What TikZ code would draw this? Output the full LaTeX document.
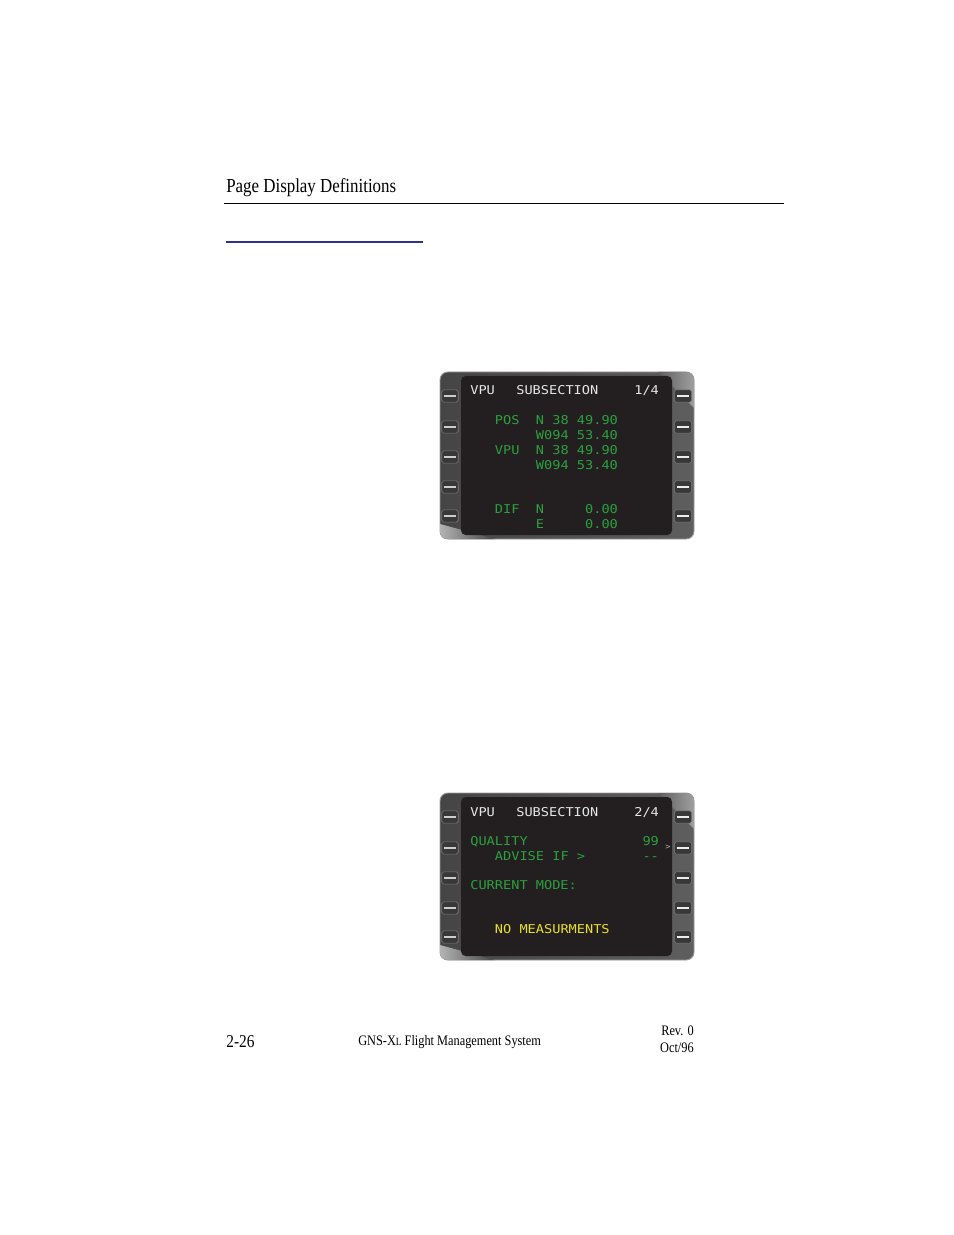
\documentclass[tikz,border=0pt]{standalone}
\usepackage{fontspec}
\setmainfont[FakeStretch=0.85]{Liberation Serif}
\newfontfamily\fmsfont[FakeStretch=1.12]{DejaVu Sans Mono}
\usetikzlibrary{positioning}
\definecolor{linkblue}{HTML}{30308F}
\definecolor{bezeldark}{HTML}{454545}
\definecolor{bezellight}{HTML}{5E5E5E}
\definecolor{bezeledge}{HTML}{9A9A9A}
\definecolor{screenblack}{HTML}{231F20}
\definecolor{keyfill}{HTML}{383838}
\definecolor{keyedge}{HTML}{7A7A7A}
\definecolor{fmswhite}{HTML}{E6E6E6}
\definecolor{fmsgreen}{HTML}{2BA03F}
\definecolor{fmsyellow}{HTML}{E8E02A}
\tikzstyle{bezel}=[draw=bezeledge, line width=0.6pt, rounded corners=5pt, left color=bezeldark, right color=bezellight]
\tikzstyle{screen}=[fill=screenblack, rounded corners=3pt]
\tikzstyle{key}=[draw=keyedge, fill=keyfill, rounded corners=1.2pt, minimum width=10.6pt, minimum height=7.9pt, inner sep=0pt]
\tikzstyle{keyline}=[draw=gray!40, line width=0.8pt]
\tikzstyle{crt}=[anchor=base west, inner sep=0pt, font=\fmsfont\fontsize{7.8}{9}\selectfont]
\tikzstyle{wht}=[crt, text=fmswhite]
\tikzstyle{grn}=[crt, text=fmsgreen]
\tikzstyle{ylw}=[crt, text=fmsyellow]
\tikzstyle{foot}=[inner sep=0pt, font=\fontsize{9.3}{11}\selectfont]
\newcommand\fmscol[1]{470+8.2*#1}
\begin{document}
\begin{tikzpicture}[x=0.64151pt, y=-0.64151pt]
\useasboundingbox (0,0) rectangle (954,1235);

% page header
\node[anchor=base west, inner sep=0pt, font=\fontsize{12.75}{15}\selectfont] (head) at (226,193) {Page Display Definitions};
\coordinate (ruleL) at (224,203);
\coordinate (ruleR) at (784,203);
\draw[line width=0.6pt] (ruleL) -- (ruleR);
\coordinate (linkL) at (226,242);
\coordinate (linkR) at (423,242);
\draw[linkblue, line width=0.7pt] (linkL) -- (linkR);

% both display units
\foreach \s in {0,421}{
  \begin{scope}[shift={(0,\s)}]
    \draw[bezel] (440,372) rectangle (694,539);
    \begin{scope}
      \clip[rounded corners=5pt] (440,372) rectangle (694,539);
      \path[left color=bezellight, right color=gray!75] (658,372) -- (694,372) -- (694,408) -- cycle;
      \path[right color=bezeldark, left color=gray!60] (440,524) -- (440,539) -- (495,539) -- cycle;
    \end{scope}
    \fill[screen] (461,376) rectangle (672,535);
    \foreach \ky [count=\i] in {396,427,457,487,516}{
      \node[key] (lsk\s-\i) at (450,\ky) {};
      \node[key, minimum width=11.2pt] (rsk\s-\i) at (683,\ky) {};
      \draw[keyline] ([xshift=1.8pt]lsk\s-\i.west) -- ([xshift=-1.8pt]lsk\s-\i.east);
      \draw[keyline, draw=gray!15, line width=1pt] ([xshift=1.8pt]rsk\s-\i.west) -- ([xshift=-1.8pt]rsk\s-\i.east);
    }
  \end{scope}
}

% page 1/4
\node[wht] (t1a) at (\fmscol{0},394.5) {VPU};
\node[wht] (t1b) at (516,394.5) {SUBSECTION};
\node[wht] (t1c) at (\fmscol{20},394.5) {1/4};
\node[grn] (pos) at (\fmscol{3},424.5) {POS};
\node[grn] (posN) at (\fmscol{8},424.5) {N 38 49.90};
\node[grn] (posW) at (\fmscol{8},439) {W094 53.40};
\node[grn] (vpu) at (\fmscol{3},454) {VPU};
\node[grn] (vpuN) at (\fmscol{8},454) {N 38 49.90};
\node[grn] (vpuW) at (\fmscol{8},469) {W094 53.40};
\node[grn] (dif) at (\fmscol{3},513.5) {DIF};
\node[grn] (difN) at (\fmscol{8},513.5) {N};
\node[grn] (difNv) at (\fmscol{14},513.5) {0.00};
\node[grn] (difE) at (\fmscol{8},528.5) {E};
\node[grn] (difEv) at (\fmscol{14},528.5) {0.00};

% page 2/4
\node[wht] (t2a) at (\fmscol{0},816) {VPU};
\node[wht] (t2b) at (516,816) {SUBSECTION};
\node[wht] (t2c) at (\fmscol{20},816) {2/4};
\node[grn] (qual) at (\fmscol{0},845.5) {QUALITY};
\node[grn] (qualv) at (\fmscol{21},845.5) {99};
\node[grn] (adv) at (\fmscol{3},860) {ADVISE IF >};
\node[grn] (advv) at (\fmscol{21},860) {-{}-};
\node[anchor=west, inner sep=0pt, text=gray!60, font=\fmsfont\fontsize{5}{6}\selectfont] (advk) at (665,847) {>};
\node[grn] (mode) at (\fmscol{0},889.5) {CURRENT MODE:};
\node[ylw] (nomeas) at (\fmscol{3},933.5) {NO MEASURMENTS};

% page footer
\node[anchor=base west, inner sep=0pt, font=\fontsize{11.6}{13}\selectfont] (pgno) at (226,1047.5) {2-26};
\node[foot, anchor=base west] (book) at (358,1045.5) {GNS-X{\fontsize{7}{8}\selectfont L} Flight Management System};
\node[foot, anchor=base east] (rev) at (694,1035) {Rev. 0};
\node[foot, anchor=base east] (date) at (694,1052) {Oct/96};
\end{tikzpicture}
\end{document}
